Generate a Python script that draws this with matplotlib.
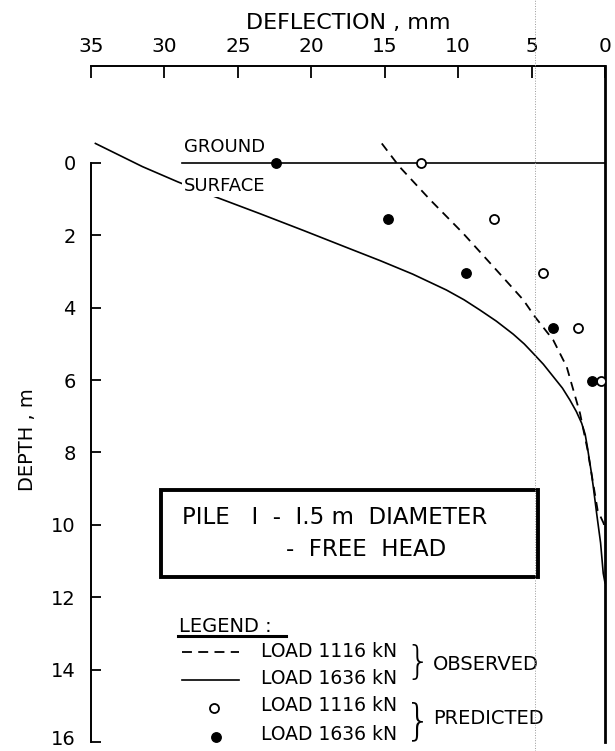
import matplotlib
matplotlib.use("Agg")
import matplotlib.pyplot as plt
import matplotlib.transforms as mtransforms
from matplotlib.patches import Rectangle
from matplotlib.lines import Line2D

plt.rcParams['font.family'] = ['DejaVu Sans']

# observed curves (deflection mm, depth m)
obs_1116_defl = [15.2, 14.0, 11.9, 9.67, 7.39, 5.57, 4.77, 3.53, 2.61, 1.7, 1.2, 0.5, 0.1, 0.0]
obs_1116_depth = [-0.54, 0.1, 1.02, 1.94, 2.96, 3.78, 4.25, 4.89, 5.63, 6.92, 7.9, 9.6, 9.95, 10.1]

obs_1636_defl = [34.7, 31.5, 29.1, 26.9, 23.5, 20.5, 17.5, 15.3, 13.1, 10.8, 9.6, 8.53,
                 7.4, 6.25, 5.5, 4.89, 4.2, 3.53, 2.9, 2.39, 1.95, 1.59, 1.35, 1.2,
                 0.95, 0.8, 0.57, 0.3, 0.12, 0.0]
obs_1636_depth = [-0.54, 0.1, 0.52, 0.88, 1.4, 1.87, 2.35, 2.7, 3.07, 3.51, 3.78, 4.06,
                  4.37, 4.73, 5.0, 5.26, 5.56, 5.9, 6.22, 6.55, 6.87, 7.19, 7.5, 7.85,
                  8.5, 8.94, 9.68, 10.5, 11.34, 11.6]

# predicted points
pred_depth = [0.0, 1.55, 3.05, 4.55, 6.02]
pred_1116 = [12.5, 7.55, 4.2, 1.82, 0.3]
pred_1636 = [22.4, 14.8, 9.48, 3.57, 0.89]

# ground surface line
ground_defl = [28.8, 0.0]
ground_depth = [0.0, 0.0]

xticks = [35, 30, 25, 20, 15, 10, 5, 0]
yticks = [0, 2, 4, 6, 8, 10, 12, 14, 16]

fig = plt.figure(figsize=(6.15, 7.51), dpi=100)
ax = fig.add_axes([91/615, 1 - 742/751, (605 - 91)/615, (742 - 66)/751])

ax.plot(obs_1116_defl, obs_1116_depth, color='black', lw=1.3, ls=(0, (5, 3.5)))
ax.plot(obs_1636_defl, obs_1636_depth, color='black', lw=1.2)
ax.plot(ground_defl, ground_depth, color='black', lw=1.2)
ax.plot(pred_1116, pred_depth, 'o', ms=6.5, mfc='white', mec='black', mew=1.3, zorder=5)
ax.plot(pred_1636, pred_depth, 'o', ms=6.8, mfc='black', mec='black', zorder=5)

ax.set_xlim(35, 0)
ax.set_ylim(16, -2.68)

ax.xaxis.tick_top()
ax.xaxis.set_label_position('top')
ax.set_xticks(xticks)
ax.set_xticklabels([str(v) for v in xticks])
ax.set_yticks(yticks)
ax.set_yticklabels([str(v) for v in yticks])
ax.tick_params(axis='x', direction='in', length=8.5, width=1.3, pad=7, labelsize=14.5)
ax.tick_params(axis='y', direction='in', length=7, width=1.3, pad=11, labelsize=14)
# nudge the bottom label up a little so it stays inside the figure
lab16 = ax.get_yticklabels()[-1]
lab16.set_transform(lab16.get_transform()
                    + mtransforms.ScaledTranslation(0, 0.045, fig.dpi_scale_trans))

ax.spines['bottom'].set_visible(False)
ax.spines['left'].set_bounds(0, 16)
ax.spines['left'].set_linewidth(1.4)
ax.spines['top'].set_linewidth(1.4)
ax.spines['right'].set_linewidth(2.0)

ax.set_xlabel('DEFLECTION , mm', fontsize=16, labelpad=6)
ax.set_ylabel('DEPTH , m', fontsize=14)
ax.yaxis.set_label_coords(-0.105, 0.447)

# ground surface labels
ax.text(28.65, -0.45, 'GROUND', fontsize=13, va='center', ha='left')
ax.text(28.7, 0.64, 'SURFACE', fontsize=13, va='center', ha='left',
        bbox=dict(facecolor='white', edgecolor='none', pad=1.0), zorder=4)

# title box
ax.add_patch(Rectangle((4.57, 9.04), 30.22 - 4.57, 11.44 - 9.04, fill=False,
                       lw=2.8, edgecolor='black', zorder=3))
ax.text(28.8, 9.81, 'PILE   I  -  I.5 m  DIAMETER', fontsize=16.5, va='center', ha='left')
ax.text(21.7, 10.69, '-  FREE  HEAD', fontsize=16.5, va='center', ha='left')

# hand-drawn style legend
ax.text(29.0, 12.8, 'LEGEND :', fontsize=14, va='center', ha='left')
ax.plot([29.06, 21.7], [13.06, 13.06], color='black', lw=2.2)
ax.plot([28.8, 24.9], [13.51, 13.51], color='black', lw=1.3, ls=(0, (5.5, 3.5)))
ax.plot([28.8, 24.9], [14.29, 14.29], color='black', lw=1.2)
ax.plot([26.6], [15.06], 'o', ms=6.5, mfc='white', mec='black', mew=1.3)
ax.plot([26.5], [15.86], 'o', ms=6.8, mfc='black', mec='black')
ax.text(23.4, 13.51, 'LOAD 1116 kN', fontsize=13.5, va='center', ha='left')
ax.text(23.4, 14.25, 'LOAD 1636 kN', fontsize=13.5, va='center', ha='left')
ax.text(23.4, 15.0, 'LOAD 1116 kN', fontsize=13.5, va='center', ha='left')
ax.text(23.4, 15.8, 'LOAD 1636 kN', fontsize=13.5, va='center', ha='left')
ax.text(13.6, 13.83, '}', fontsize=28, va='center', ha='left', fontweight='light')
ax.text(13.6, 15.45, '}', fontsize=30, va='center', ha='left', fontweight='light')
ax.text(11.7, 13.87, 'OBSERVED', fontsize=14, va='center', ha='left')
ax.text(11.7, 15.34, 'PREDICTED', fontsize=14, va='center', ha='left')

# faint fold line from the scanned page
fig.add_artist(Line2D([535/615, 535/615], [0, 1], transform=fig.transFigure,
                      ls=':', lw=0.7, color='0.6'))

fig.savefig('out.png', dpi=100)
